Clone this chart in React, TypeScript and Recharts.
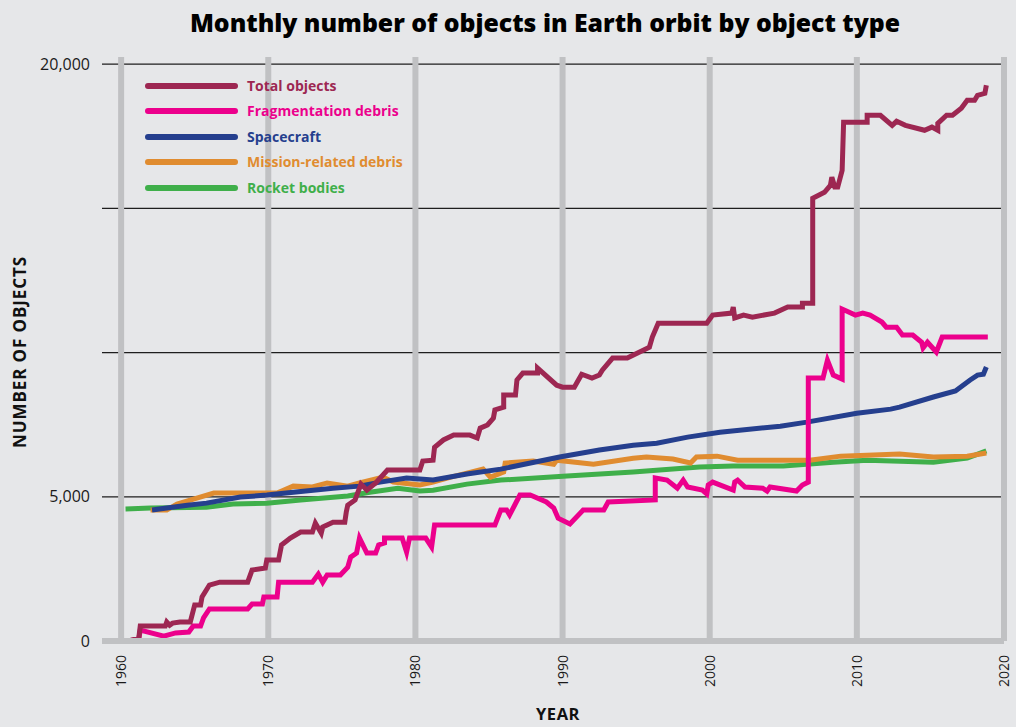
import React from "react";
import { LineChart, Line, XAxis, YAxis, CartesianGrid } from "recharts";

// [year, number of objects]
const totalObjects: [number, number][] = [
  [1960.5, 0], [1961.2, 100], [1961.3, 520], [1963.0, 520], [1963.1, 660], [1963.3, 550], [1963.5, 620],
  [1964.0, 660], [1964.7, 660], [1965.0, 1250], [1965.4, 1250], [1965.5, 1530], [1966.0, 1940], [1966.7, 2040],
  [1968.6, 2040], [1968.9, 2460], [1969.8, 2530], [1969.9, 2810], [1970.7, 2810], [1970.9, 3330], [1971.5, 3570],
  [1972.2, 3780], [1973.0, 3780], [1973.2, 4090], [1973.6, 3740], [1973.7, 3950], [1974.4, 4120], [1975.2, 4120],
  [1975.3, 4470], [1975.4, 4710], [1975.9, 4890], [1976.3, 5440], [1976.7, 5230], [1977.3, 5480], [1978.1, 5930],
  [1980.3, 5930], [1980.5, 6240], [1981.2, 6270], [1981.3, 6720], [1981.9, 6970], [1982.6, 7140], [1983.7, 7140],
  [1984.2, 7040], [1984.4, 7380], [1984.9, 7490], [1985.3, 7730], [1985.4, 8010], [1986.0, 8110], [1986.0, 8530],
  [1986.8, 8530], [1986.9, 9050], [1987.3, 9290], [1988.3, 9290], [1988.3, 9460], [1989.6, 8870], [1990.0, 8800],
  [1990.8, 8800], [1991.0, 8980], [1991.3, 9250], [1992.0, 9120], [1992.5, 9220], [1992.7, 9390], [1993.4, 9810],
  [1994.4, 9810], [1995.9, 10190], [1996.1, 10540], [1996.5, 11020], [1999.8, 11020], [2000.2, 11300],
  [2001.5, 11370], [2001.6, 11580], [2001.7, 11200], [2002.3, 11300], [2002.9, 11230], [2004.4, 11370],
  [2005.3, 11580], [2006.3, 11580], [2006.3, 11710], [2007.0, 11710], [2007.0, 15350], [2007.8, 15560],
  [2008.2, 15800], [2008.3, 16080], [2008.5, 15740], [2008.7, 15740], [2009.0, 16320], [2009.1, 17990],
  [2010.7, 17990], [2010.7, 18230], [2011.6, 18230], [2012.4, 17880], [2012.7, 18020], [2013.3, 17880],
  [2014.6, 17710], [2015.1, 17820], [2015.5, 17710], [2015.5, 17950], [2016.1, 18230], [2016.5, 18230],
  [2017.1, 18470], [2017.5, 18750], [2018.0, 18750], [2018.2, 18920], [2018.7, 18990], [2018.8, 19270],
];

const fragmentationDebris: [number, number][] = [
  [1960.5, 0], [1961.2, 70], [1961.3, 380], [1962.9, 170], [1963.7, 280], [1964.6, 310], [1964.9, 520],
  [1965.4, 520], [1965.6, 800], [1966.0, 1110], [1968.6, 1110], [1968.9, 1280], [1969.6, 1280], [1969.7, 1530],
  [1970.6, 1530], [1970.7, 2040], [1973.0, 2040], [1973.4, 2320], [1973.7, 2040], [1974.0, 2290], [1974.9, 2290],
  [1975.4, 2560], [1975.6, 2910], [1976.0, 3050], [1976.2, 3570], [1976.7, 3050], [1977.3, 3050], [1977.5, 3330],
  [1977.9, 3400], [1977.9, 3570], [1979.1, 3570], [1979.4, 3080], [1979.6, 3570], [1980.7, 3570], [1981.1, 3260],
  [1981.3, 4020], [1985.4, 4020], [1985.8, 4540], [1986.2, 4540], [1986.4, 4370], [1987.1, 5060], [1987.8, 5060],
  [1988.9, 4820], [1989.4, 4610], [1989.7, 4260], [1990.5, 4060], [1991.4, 4540], [1992.8, 4540], [1993.1, 4820],
  [1996.3, 4890], [1996.3, 5650], [1997.1, 5580], [1997.8, 5300], [1998.2, 5580], [1998.5, 5340], [1999.5, 5230],
  [1999.8, 5100], [1999.9, 5410], [2000.2, 5510], [2001.6, 5230], [2001.7, 5510], [2001.9, 5580], [2002.4, 5340],
  [2003.6, 5300], [2003.9, 5200], [2004.1, 5340], [2005.9, 5200], [2006.3, 5410], [2006.7, 5510], [2006.7, 9120],
  [2007.7, 9120], [2008.0, 9740], [2008.4, 9220], [2009.0, 9080], [2009.0, 11510], [2009.9, 11300],
  [2010.4, 11370], [2010.9, 11300], [2011.7, 11060], [2012.0, 10880], [2012.7, 10880], [2013.1, 10610],
  [2013.8, 10610], [2014.4, 10360], [2014.5, 10160], [2014.8, 10360], [2015.4, 10020], [2015.8, 10540],
  [2018.9, 10540],
];

const spacecraft: [number, number][] = [
  [1962.1, 4540], [1963.1, 4610], [1964.5, 4710], [1965.8, 4780], [1968.1, 4990], [1969.9, 5060], [1971.7, 5160],
  [1974.4, 5300], [1976.2, 5370], [1977.6, 5510], [1979.4, 5650], [1981.2, 5580], [1983.5, 5790], [1985.8, 5960],
  [1989.8, 6380], [1992.5, 6620], [1994.8, 6790], [1996.4, 6860], [1998.5, 7070], [2000.7, 7240], [2004.8, 7450],
  [2006.6, 7590], [2010.0, 7900], [2012.3, 8040], [2012.9, 8110], [2015.2, 8460], [2016.7, 8670], [2017.7, 9050],
  [2018.2, 9220], [2018.6, 9250], [2018.8, 9500],
];

const missionRelatedDebris: [number, number][] = [
  [1962.0, 4540], [1963.1, 4540], [1963.8, 4750], [1965.2, 4960], [1966.3, 5130], [1970.6, 5130], [1971.7, 5370],
  [1973.0, 5340], [1974.0, 5480], [1975.4, 5370], [1976.2, 5480], [1977.8, 5680], [1978.5, 5510], [1980.3, 5410],
  [1981.2, 5510], [1982.4, 5680], [1983.5, 5820], [1984.6, 5960], [1985.1, 5680], [1986.0, 5860], [1986.1, 6170],
  [1988.0, 6240], [1989.4, 6130], [1989.6, 6270], [1992.1, 6130], [1994.8, 6340], [1995.7, 6380], [1997.5, 6310],
  [1998.7, 6170], [1999.1, 6380], [2000.5, 6410], [2001.9, 6270], [2006.8, 6270], [2008.9, 6410], [2012.9, 6480],
  [2015.2, 6380], [2017.5, 6410], [2018.8, 6520],
];

const rocketBodies: [number, number][] = [
  [1960.3, 4580], [1962.0, 4610], [1965.8, 4640], [1967.6, 4750], [1969.9, 4780], [1972.2, 4890], [1975.4, 5030],
  [1976.9, 5160], [1978.8, 5300], [1980.3, 5200], [1981.2, 5230], [1983.5, 5440], [1985.8, 5580], [1990.3, 5720],
  [1994.8, 5860], [1999.3, 6030], [2001.6, 6070], [2005.0, 6070], [2008.4, 6200], [2010.7, 6270], [2015.2, 6200],
  [2017.5, 6340], [2018.8, 6590],
];

const yearTicks = [1960, 1970, 1980, 1990, 2000, 2010, 2020];
const valueTicks = [0, 5000, 10000, 15000, 20000];
const labelledValues = [0, 5000, 20000];
const gridValues = [5000, 10000, 15000, 20000];

const series = [
  { name: "Total objects", color: "#9d2752", points: totalObjects },
  { name: "Fragmentation debris", color: "#ec008c", points: fragmentationDebris },
  { name: "Spacecraft", color: "#253f8e", points: spacecraft },
  { name: "Mission-related debris", color: "#e08c30", points: missionRelatedDebris },
  { name: "Rocket bodies", color: "#3faf4a", points: rocketBodies },
];

const drawOrder = ["Rocket bodies", "Mission-related debris", "Spacecraft", "Fragmentation debris", "Total objects"];

const toRows = (pts: [number, number][]) => pts.map(([year, value]) => ({ year, value }));

const FONT = "'Open Sans', sans-serif";

const YearTick = (props: any) => {
  const { x, y, payload } = props;
  return (
    <text
      x={0}
      y={0}
      transform={`translate(${x},${y}) rotate(-90)`}
      textAnchor="end"
      dy="0.36em"
      fill="#1a1a1a"
      fontSize={14}
      fontFamily={FONT}
    >
      {payload.value}
    </text>
  );
};

const LegendBox = () => (
  <div style={{ position: "absolute", left: 142, top: 73, display: "flex", flexDirection: "column" }}>
    {series.map((s) => (
      <div key={s.name} style={{ display: "flex", alignItems: "center", height: 25.5 }}>
        <svg width={99} height={12} style={{ display: "block" }}>
          <line x1={6} x2={93} y1={6} y2={6} stroke={s.color} strokeWidth={6} strokeLinecap="round" />
        </svg>
        <span
          style={{
            marginLeft: 6,
            color: s.color,
            fontFamily: FONT,
            fontWeight: 700,
            fontSize: 14,
            lineHeight: "14px",
            whiteSpace: "nowrap",
          }}
        >
          {s.name}
        </span>
      </div>
    ))}
  </div>
);

export default function App() {
  return (
    <div
      style={{
        position: "absolute",
        left: 0,
        top: 0,
        width: 1016,
        height: 727,
        background: "#e6e7e9",
        overflow: "hidden",
      }}
    >
      <div
        style={{
          position: "absolute",
          left: 0,
          width: 1090,
          top: 5,
          textAlign: "center",
          fontFamily: FONT,
          fontWeight: 800,
          fontSize: 24.8,
          lineHeight: "34px",
          color: "#000",
          whiteSpace: "nowrap",
        }}
      >
        Monthly number of objects in Earth orbit by object type
      </div>
      <div
        style={{
          position: "absolute",
          left: 19,
          top: 352,
          transform: "translate(-50%, -50%) rotate(-90deg)",
          fontFamily: FONT,
          fontWeight: 700,
          fontSize: 17,
          lineHeight: "17px",
          letterSpacing: 0.9,
          color: "#111",
          whiteSpace: "nowrap",
        }}
      >
        NUMBER OF OBJECTS
      </div>
      <div
        style={{
          position: "absolute",
          left: 558,
          top: 704,
          width: 80,
          marginLeft: -40,
          textAlign: "center",
          fontFamily: FONT,
          fontWeight: 700,
          fontSize: 16.5,
          lineHeight: "20px",
          letterSpacing: 0.6,
          color: "#111",
          whiteSpace: "nowrap",
        }}
      >
        YEAR
      </div>
      <div style={{ position: "absolute", left: 0, top: 0 }}>
        <LineChart width={1016} height={727} margin={{ top: 57, right: 12, bottom: 0, left: 22 }}>
          <CartesianGrid
            horizontal={true}
            vertical={false}
            horizontalValues={gridValues}
            stroke="#1e1e1e"
            strokeWidth={1.2}
          />
          <CartesianGrid
            horizontal={false}
            vertical={true}
            verticalValues={yearTicks}
            stroke="#c0c1c3"
            strokeWidth={6}
          />
          <XAxis
            type="number"
            dataKey="year"
            domain={[1958.7, 2020]}
            allowDataOverflow
            ticks={yearTicks}
            height={86}
            axisLine={{ stroke: "#c0c1c3", strokeWidth: 6 }}
            tickLine={false}
            tickSize={6}
            tickMargin={8}
            tick={<YearTick />}
            interval={0}
          />
          <YAxis
            type="number"
            domain={[0, 20250]}
            allowDataOverflow
            ticks={valueTicks}
            width={80}
            axisLine={false}
            tickLine={false}
            tickSize={6}
            tickMargin={6}
            interval={0}
            tick={{ fill: "#1a1a1a", fontSize: 16, fontFamily: FONT }}
            tickFormatter={(v: number) => (labelledValues.includes(v) ? v.toLocaleString("en-US") : "")}
          />
          {drawOrder.map((name) => {
            const s = series.find((x) => x.name === name)!;
            return (
              <Line
                key={s.name}
                name={s.name}
                data={toRows(s.points)}
                dataKey="value"
                type="linear"
                stroke={s.color}
                strokeWidth={5}
                dot={false}
                activeDot={false}
                isAnimationActive={false}
                strokeLinejoin="miter"
              />
            );
          })}
        </LineChart>
      </div>
      <LegendBox />
    </div>
  );
}
